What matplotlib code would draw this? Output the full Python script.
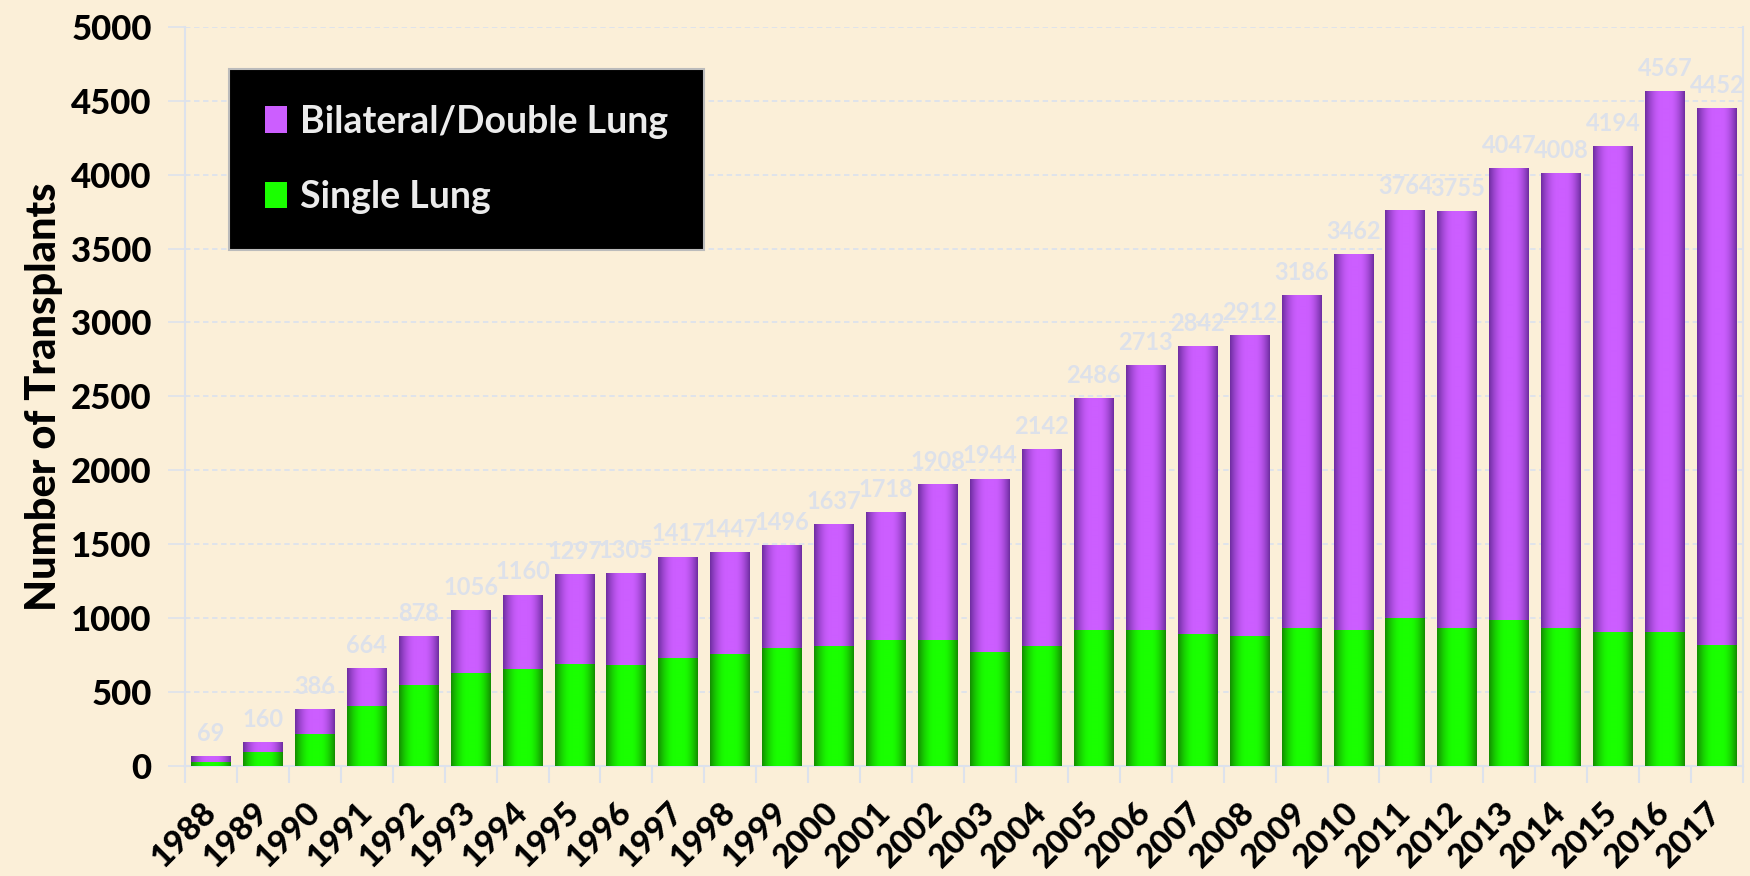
import numpy as np
import matplotlib
matplotlib.use("Agg")
import matplotlib.pyplot as plt
from matplotlib.patches import Patch

plt.rcParams['font.family'] = ['Lato', 'DejaVu Sans']

years = [str(y) for y in range(1988, 2018)]
totals = [69, 160, 386, 664, 878, 1056, 1160, 1297, 1305, 1417,
          1447, 1496, 1637, 1718, 1908, 1944, 2142, 2486, 2713, 2842,
          2912, 3186, 3462, 3764, 3755, 4047, 4008, 4194, 4567, 4452]
single = [27, 97, 219, 404, 546, 627, 654, 690, 681, 728,
          755, 798, 812, 855, 850, 774, 812, 918, 918, 895,
          877, 936, 922, 999, 931, 986, 936, 909, 904, 816]
double = [t - s for t, s in zip(totals, single)]
yticks = list(range(0, 5001, 500))

BG = '#fbefd8'
GRID = '#dde2ec'
LABEL = '#dde1ea'
WEIGHT = 'black'

fig = plt.figure(figsize=(17.5, 8.76), dpi=100, facecolor=BG)
ax = fig.add_axes([185/1750, 1-766/876, (1743-185)/1750, (766-26.8)/876])
ax.set_facecolor('none')

x = np.arange(len(years))
w = 0.77
b1 = ax.bar(x, single, w, color='#1aff00', zorder=3)
b2 = ax.bar(x, double, w, bottom=single, color='#cc5eff', zorder=3)

def profile(n=200):
    t = np.linspace(0, 1, n)
    f = np.where(t < 0.42, t / 0.42, np.where(t > 0.62, (1 - t) / 0.38, 1.0))
    f = np.clip(f, 0, 1)
    return np.sin(f * np.pi / 2) ** 0.9

def grad(dark, bright):
    f = profile()[None, :, None]
    d = np.array(matplotlib.colors.to_rgb(dark))[None, None, :]
    b = np.array(matplotlib.colors.to_rgb(bright))[None, None, :]
    return d + (b - d) * f

g_green = grad('#138a00', '#1aff00')
g_purple = grad('#6c2c9e', '#cc5eff')
for bars, g in ((b1, g_green), (b2, g_purple)):
    for p in bars:
        x0, y0 = p.get_x(), p.get_y()
        im = ax.imshow(g, extent=[x0, x0 + p.get_width(), y0, y0 + p.get_height()],
                       aspect='auto', zorder=3.5, interpolation='bilinear')
        im.set_clip_path(p)

for xi, t in zip(x, totals):
    ax.annotate(str(t), (xi, t), xytext=(0, 8), textcoords='offset points',
                ha='center', va='bottom', fontsize=17, fontweight='bold',
                color=LABEL, zorder=5)

ax.set_xlim(-0.5, len(years) - 0.5)
ax.set_ylim(0, 5000)
ax.set_yticks(yticks)
ax.set_yticklabels([str(v) for v in yticks], fontsize=25, fontweight=WEIGHT)
ax.set_xticks(x)
ax.set_xticklabels(years, fontsize=24, fontweight=WEIGHT, rotation=45,
                   ha='right', va='center', rotation_mode='anchor')
ax.set_xticks(np.arange(-0.5, len(years), 1), minor=True)
ax.tick_params(axis='x', which='major', length=0, pad=30)
ax.tick_params(axis='x', which='minor', length=12, color=GRID, width=1.5)
ax.tick_params(axis='y', length=12, color=GRID, width=1.2, pad=12)

ax.yaxis.grid(True, color=GRID, linestyle=(0, (3, 2)), linewidth=1.3, zorder=0)
ax.set_axisbelow(True)
for s in ('left', 'bottom', 'right'):
    ax.spines[s].set_color(GRID)
    ax.spines[s].set_linewidth(1.5)
ax.spines['top'].set_visible(False)

ax.set_ylabel('Number of Transplants', fontsize=30, fontweight=WEIGHT, labelpad=6)

handles = [Patch(facecolor='#cc5eff', label='Bilateral/Double Lung'),
           Patch(facecolor='#1aff00', label='Single Lung')]
leg = ax.legend(handles=handles, loc='upper left',
                bbox_to_anchor=(229/1750, 1-69/876), bbox_transform=fig.transFigure,
                borderaxespad=0, fontsize=27, frameon=True, fancybox=False,
                facecolor='black', edgecolor='#bbbbbb', framealpha=1,
                labelspacing=1.1, borderpad=0.95, handlelength=0.6,
                handleheight=0.7, handletextpad=0.35)
leg.set_zorder(6)
for t in leg.get_texts():
    t.set_color('#ececec')
    t.set_fontweight('bold')
leg.get_frame().set_linewidth(1.5)

fig.savefig('out.png', dpi=100, facecolor=BG)
